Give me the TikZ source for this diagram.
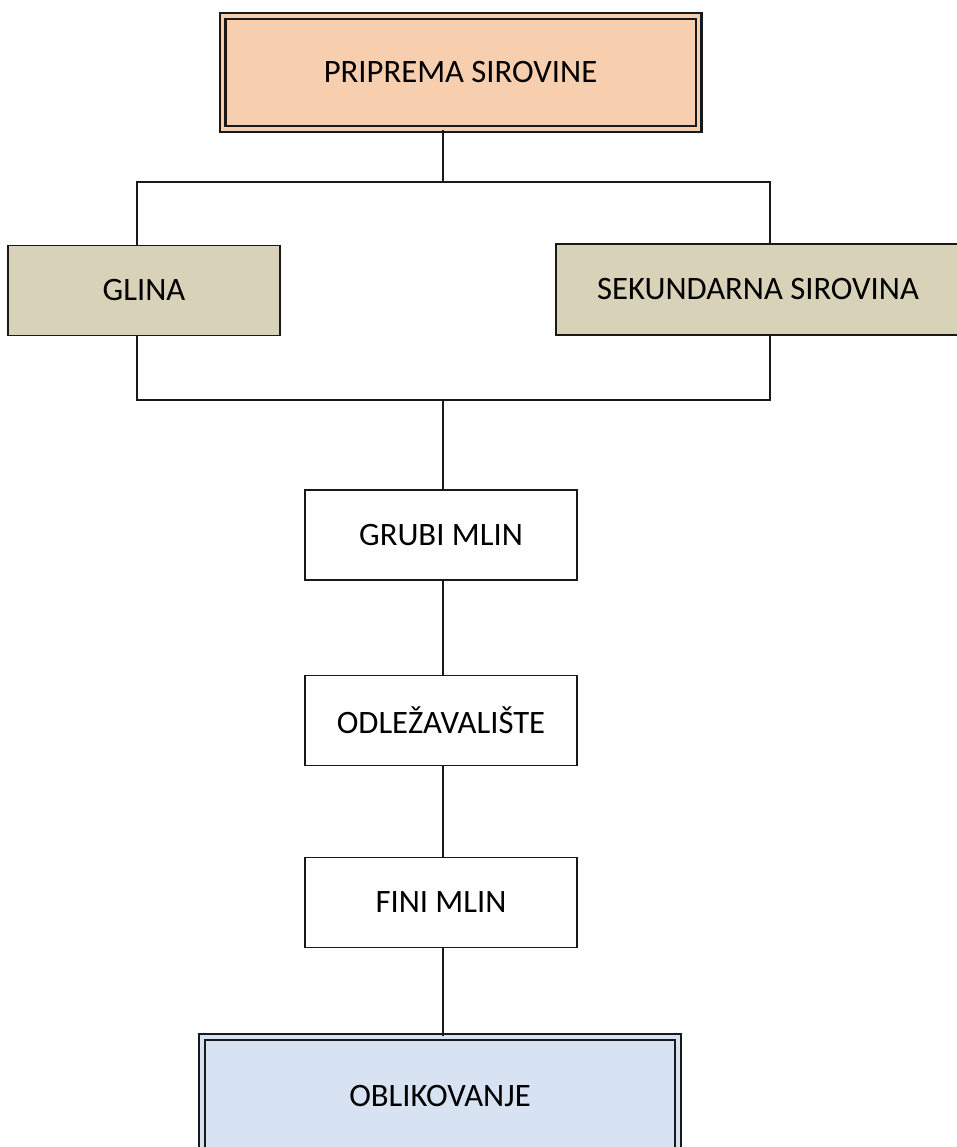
\documentclass[tikz,border=0pt]{standalone}
\usepackage{fontspec}
\setmainfont{Carlito}
\definecolor{peach}{HTML}{F8CFAE}
\definecolor{tan}{HTML}{D8D2B9}
\definecolor{lblue}{HTML}{D7E3F3}
\begin{document}
\begin{tikzpicture}[x=0.75pt,y=-0.75pt,
  box/.style={draw=black!90,line width=1.2pt,minimum width=272*0.75pt,minimum height=90*0.75pt,inner sep=0pt,font=\fontsize{24.5}{29}\selectfont},
  dbox/.style={box,double=#1,fill=#1,double distance=2.6pt,line width=1.7pt},
  conn/.style={draw=black!90,line width=1.1pt}]
\clip (0,0) rectangle (957,1147);
\fill[white] (0,0) rectangle (957,1147);
\node[dbox=peach,minimum width=476*0.75pt,minimum height=113*0.75pt] (top) at (460.5,72.5) {PRIPREMA SIROVINE};
\node[box,fill=tan] (glina) at (144,290.5) {GLINA};
\node[box,fill=tan,minimum width=404*0.75pt,minimum height=91*0.75pt] (sek) at (758,289.5) {SEKUNDARNA SIROVINA};
\node[box] (grubi) at (441,535) {GRUBI MLIN};
\node[box] (odl) at (441,720.5) {ODLEŽAVALIŠTE};
\node[box] (fini) at (441,902.5) {FINI MLIN};
\node[dbox=lblue,minimum width=476*0.75pt,minimum height=118*0.75pt] (obl) at (440,1096) {OBLIKOVANJE};
\coordinate (s1) at (443,182);
\coordinate (j1) at (443,400);
\draw[conn] (top.south -| s1) -- (s1);
\draw[conn] (glina.north -| 137,0) |- (s1) -| (sek.north -| 770,0);
\draw[conn] (glina.south -| 137,0) |- (j1) -| (sek.south -| 770,0);
\draw[conn] (j1) -- (grubi.north -| j1);
\draw[conn] (grubi.south -| j1) -- (odl.north -| j1);
\draw[conn] (odl.south -| j1) -- (fini.north -| j1);
\draw[conn] (fini.south -| j1) -- (obl.north -| j1);
\end{tikzpicture}
\end{document}
